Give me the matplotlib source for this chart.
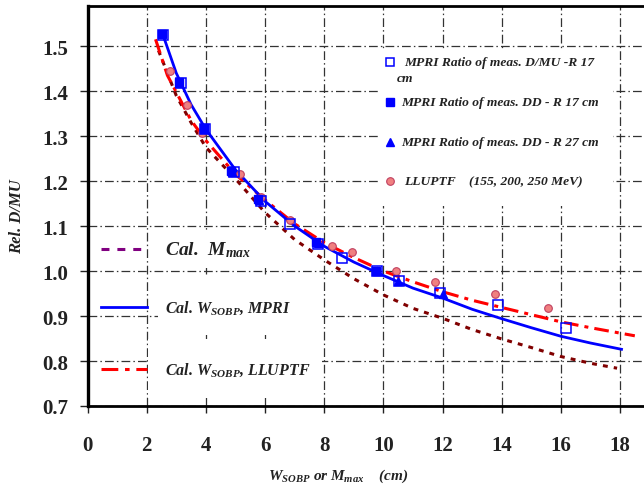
import matplotlib
matplotlib.use("Agg")
import matplotlib.pyplot as plt
from matplotlib.patches import Rectangle

plt.rcParams['font.family'] = 'Liberation Serif'
plt.rcParams['font.weight'] = 'bold'
plt.rcParams['mathtext.fontset'] = 'custom'
plt.rcParams['mathtext.it'] = 'Liberation Serif:italic:bold'
plt.rcParams['mathtext.rm'] = 'Liberation Serif:italic:bold'

# measured ratios
dmu_x = [2.55, 3.15, 3.97, 4.95, 5.85, 6.85, 7.78, 8.59, 9.8, 10.52, 11.9, 13.87, 16.19]
dmu_y = [1.524, 1.418, 1.316, 1.219, 1.156, 1.104, 1.060, 1.030, 1.0, 0.978, 0.951, 0.924, 0.874]
dd17_x = [2.52, 3.08, 3.93, 4.85, 5.77, 7.73, 9.75]
dd17_y = [1.527, 1.42, 1.318, 1.222, 1.16, 1.064, 0.999]
dd27_x = [3.1, 3.95, 4.9, 5.8, 7.8, 9.8, 10.5, 12.02]
dd27_y = [1.418, 1.316, 1.22, 1.158, 1.062, 1.0, 0.977, 0.948]
llu_x = [2.78, 3.37, 3.87, 5.17, 5.87, 6.85, 8.26, 8.95, 10.42, 11.75, 13.77, 15.58]
llu_y = [1.444, 1.370, 1.306, 1.215, 1.164, 1.113, 1.056, 1.042, 1.0, 0.976, 0.950, 0.918]

# calculated curves
mpri_x = [2.55, 3, 3.5, 4, 5, 6, 7, 8, 9, 10, 11, 12, 13, 14, 15, 16, 17, 18.05]
mpri_y = [1.525, 1.44, 1.37, 1.315, 1.225, 1.155, 1.10, 1.055, 1.02, 0.99, 0.962, 0.94,
          0.915, 0.894, 0.874, 0.855, 0.84, 0.826]
lluptf_x = [2.3, 2.7, 3.1, 3.5, 4, 5, 6, 7, 8, 9, 10, 11, 12, 13, 14, 15, 16, 17, 18, 18.5]
lluptf_y = [1.515, 1.435, 1.385, 1.335, 1.29, 1.215, 1.158, 1.105, 1.063, 1.03, 1.0, 0.976,
            0.954, 0.935, 0.919, 0.903, 0.887, 0.874, 0.862, 0.856]
mmax_x = [2.4, 3, 3.5, 4, 5, 6, 7, 8, 9, 10, 11, 12, 13, 14, 15, 16, 17, 17.9]
mmax_y = [1.49, 1.39, 1.33, 1.275, 1.205, 1.13, 1.07, 1.025, 0.983, 0.947, 0.917, 0.895,
          0.87, 0.849, 0.83, 0.81, 0.795, 0.784]

xticks = [0, 2, 4, 6, 8, 10, 12, 14, 16, 18]
yticks = [0.7, 0.8, 0.9, 1.0, 1.1, 1.2, 1.3, 1.4, 1.5]

W, H = 644, 485
fig = plt.figure(figsize=(W / 100, H / 100), dpi=100)
x0, x1, y0, y1 = 87.5, 644, 407, 7
ax = fig.add_axes([x0 / W, 1 - y0 / H, (x1 - x0) / W, (y0 - y1) / H])


def axpos(px, py):
    # pixel position -> axes fraction
    return (px - x0) / (x1 - x0), (y0 - py) / (y0 - y1)


ax.set_xlim(0, 18.81)
ax.set_ylim(0.7, 1.589)
ax.set_xticks(xticks)
ax.set_yticks(yticks)
ax.set_yticklabels(['%.1f' % v for v in yticks])
ax.tick_params(axis='both', labelsize=15, colors='#222222', width=1)
ax.tick_params(axis='y', direction='out', length=6, pad=8)
ax.tick_params(axis='x', direction='out', length=5, pad=16)

ax.grid(True, color='#333333', linewidth=0.9, dashes=(7, 2.5, 1.2, 2.5), zorder=0)
ax.set_axisbelow(True)

ax.spines['right'].set_visible(False)
ax.spines['left'].set_linewidth(2.4)
ax.spines['bottom'].set_linewidth(2.0)
ax.spines['top'].set_linewidth(2.0)

# white boxes behind the annotation text
for (ax0, ay0, ax1_, ay1) in [(158, 232, 276, 269), (158, 277, 322, 336),
                             (148, 340, 322, 399), (380, 50, 613, 207)]:
    fx0, fy1 = axpos(ax0, ay0)
    fx1, fy0 = axpos(ax1_, ay1)
    ax.add_patch(Rectangle((fx0, fy0), fx1 - fx0, fy1 - fy0, transform=ax.transAxes,
                           facecolor='white', edgecolor='none', zorder=1))

ax.plot(mmax_x, mmax_y, color='#800000', lw=2.2, dashes=(1.6, 2.0), zorder=3)
ax.plot(mpri_x, mpri_y, color='#0000ff', lw=2.0, zorder=4)
ax.plot(lluptf_x, lluptf_y, color='#ff0000', lw=2.2, dashes=(4.8, 2.0, 1.3, 2.0), zorder=3)

ax.plot(llu_x, llu_y, 'o', ms=5.5, mfc='#f08080', mec='#c04060', mew=0.8, zorder=5)
ax.plot(dmu_x, dmu_y, 's', ms=6.5, mfc='none', mec='#0000ff', mew=1.1, zorder=6)
ax.plot(dd17_x, dd17_y, 's', ms=5.8, mfc='#0000ff', mec='#0000ff', zorder=6)
ax.plot(dd27_x, dd27_y, '^', ms=5.5, mfc='#0000ff', mec='#0000ff', zorder=6)

# legend for the calculated curves
lx0, _ = axpos(101, 0)
lx1, _ = axpos(147, 0)
tx, _ = axpos(165, 0)
_, ly = axpos(0, 250)
ax.plot([lx0, lx1], [ly, ly], transform=ax.transAxes, color='#800080', lw=2.2,
        dashes=(2.6, 2.6), zorder=7)
ax.text(tx, ly, 'Cal.  $M_{max}$', transform=ax.transAxes, fontsize=14,
        style='italic', color='#222222', va='center', zorder=8)
_, ly = axpos(0, 308)
ax.plot([lx0, lx1], [ly, ly], transform=ax.transAxes, color='#0000ff', lw=2.0, zorder=7)
ax.text(tx, ly, 'Cal. $W_{SOBP}$, MPRI', transform=ax.transAxes, fontsize=11.5,
        style='italic', color='#222222', va='center', zorder=8)
_, ly = axpos(0, 370)
ax.plot([lx0, lx1], [ly, ly], transform=ax.transAxes, color='#ff0000', lw=2.2,
        dashes=(5.5, 2.2, 1.5, 2.2), zorder=7)
ax.text(tx, ly, 'Cal. $W_{SOBP}$, LLUPTF', transform=ax.transAxes, fontsize=11.5,
        style='italic', color='#222222', va='center', zorder=8)

# legend for the measured points
mx, _ = axpos(390, 0)
rows = [
    (63, 's', dict(ms=6, mfc='white', mec='#0000ff', mew=1.1), 404,
     'MPRI Ratio of meas. D/MU -R 17'),
    (103, 's', dict(ms=5.5, mfc='#0000ff', mec='#0000ff'), 401,
     'MPRI Ratio of meas. DD - R 17 cm'),
    (143, '^', dict(ms=5.5, mfc='#0000ff', mec='#0000ff'), 401,
     'MPRI Ratio of meas. DD - R 27 cm'),
    (182, 'o', dict(ms=5.5, mfc='#f08080', mec='#c04060', mew=0.8), 404,
     'LLUPTF    (155, 200, 250 MeV)'),
]
for py, mk, kw, px, label in rows:
    _, my = axpos(0, py)
    ax.plot([mx], [my], mk, transform=ax.transAxes, zorder=8, **kw)
    tpx, _ = axpos(px, 0)
    ax.text(tpx, my, label, transform=ax.transAxes, fontsize=9.7, style='italic',
            color='#222222', va='center', zorder=8)
cx, cy = axpos(397, 79)
ax.text(cx, cy, 'cm', transform=ax.transAxes, fontsize=9.7, style='italic',
        color='#222222', va='center', zorder=8)

fig.text(17 / W, 1 - 217 / H, 'Rel. D/MU', rotation=90, fontsize=12, style='italic',
         color='#222222', ha='center', va='center')
fig.text(338 / W, 1 - 476 / H, '$W_{SOBP}$ or $M_{max}$    (cm)', fontsize=11,
         style='italic', color='#222222', ha='center', va='center')

fig.savefig('out.png', dpi=100)
